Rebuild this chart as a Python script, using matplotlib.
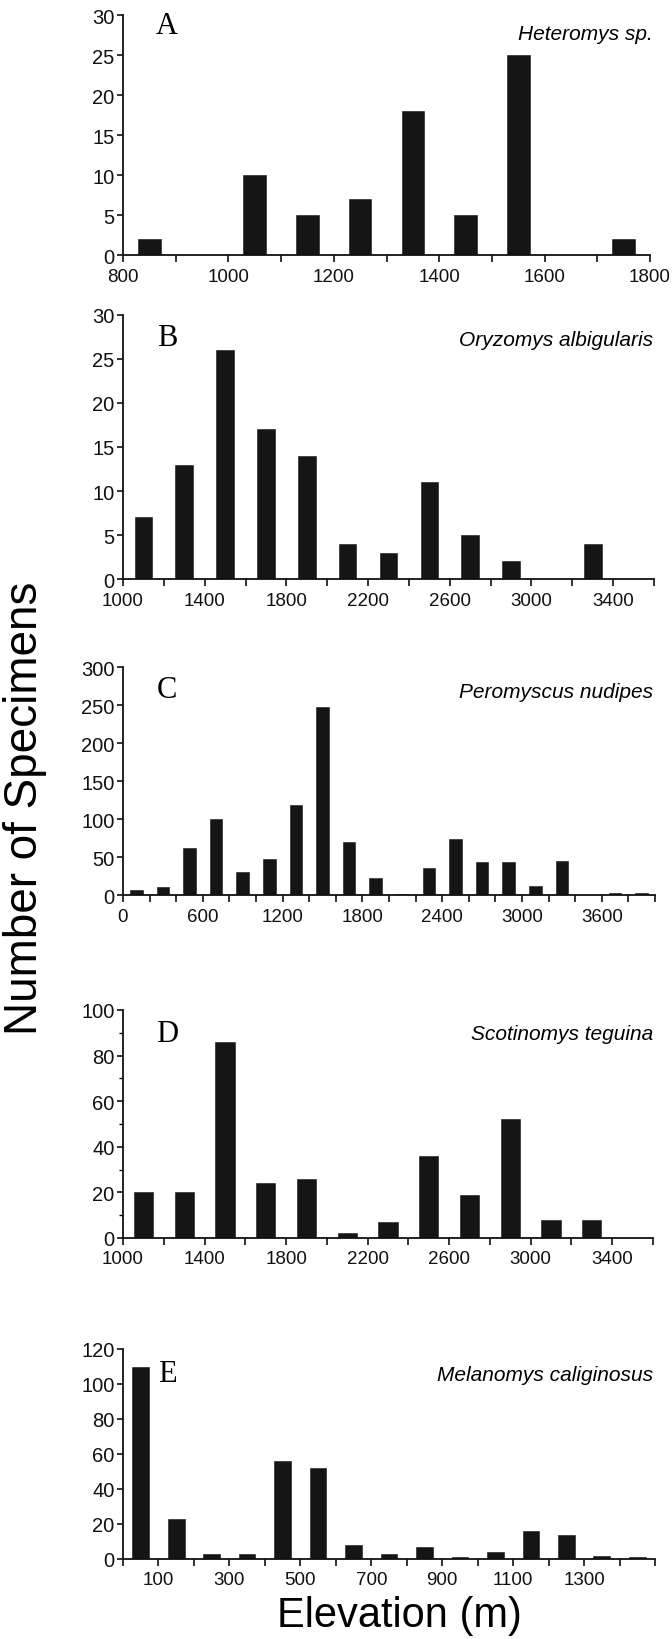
import matplotlib
matplotlib.use("Agg")
import matplotlib.pyplot as plt

# ---- data: specimen counts per elevation bin (bin centres in metres) ----
elev_a = [850, 950, 1050, 1150, 1250, 1350, 1450, 1550, 1650, 1750]
count_a = [2, 0, 10, 5, 7, 18, 5, 25, 0, 2]

elev_b = [1100, 1300, 1500, 1700, 1900, 2100, 2300, 2500, 2700, 2900, 3100, 3300, 3500]
count_b = [7, 13, 26, 17, 14, 4, 3, 11, 5, 2, 0, 4, 0]

elev_c = [100, 300, 500, 700, 900, 1100, 1300, 1500, 1700, 1900,
          2100, 2300, 2500, 2700, 2900, 3100, 3300, 3500, 3700, 3900]
count_c = [6, 10, 62, 100, 30, 47, 118, 247, 70, 22,
           1, 35, 74, 44, 44, 12, 45, 0, 2, 2]

elev_d = [1100, 1300, 1500, 1700, 1900, 2100, 2300, 2500, 2700, 2900, 3100, 3300, 3500]
count_d = [20, 20, 86, 24, 26, 2, 7, 36, 19, 52, 8, 8, 0]

elev_e = [50, 150, 250, 350, 450, 550, 650, 750, 850, 950, 1050, 1150, 1250, 1350, 1450]
count_e = [110, 23, 3, 3, 56, 52, 8, 3, 7, 1, 4, 16, 14, 2, 1]

species = ["Heteromys sp.", "Oryzomys albigularis", "Peromyscus nudipes",
           "Scotinomys teguina", "Melanomys caliginosus"]
letters = ["A", "B", "C", "D", "E"]

# axis extents and ticks
xlims = [(800, 1800), (1000, 3600), (0, 4000), (1000, 3600), (0, 1500)]
xticks = [
    [800, 900, 1000, 1100, 1200, 1300, 1400, 1500, 1600, 1700, 1800],
    [1000, 1200, 1400, 1600, 1800, 2000, 2200, 2400, 2600, 2800, 3000, 3200, 3400, 3600],
    [0, 200, 400, 600, 800, 1000, 1200, 1400, 1600, 1800, 2000,
     2200, 2400, 2600, 2800, 3000, 3200, 3400, 3600, 3800, 4000],
    [1000, 1200, 1400, 1600, 1800, 2000, 2200, 2400, 2600, 2800, 3000, 3200, 3400, 3600],
    [0, 100, 200, 300, 400, 500, 600, 700, 800, 900, 1000, 1100, 1200, 1300, 1400, 1500],
]
xlabels = [
    ["800", "", "1000", "", "1200", "", "1400", "", "1600", "", "1800"],
    ["1000", "", "1400", "", "1800", "", "2200", "", "2600", "", "3000", "", "3400", ""],
    ["0", "", "", "600", "", "", "1200", "", "", "1800", "", "", "2400", "", "",
     "3000", "", "", "3600", "", ""],
    ["1000", "", "1400", "", "1800", "", "2200", "", "2600", "", "3000", "", "3400", ""],
    ["", "100", "", "300", "", "500", "", "700", "", "900", "", "1100", "", "1300", "", ""],
]
ymax = [30, 30, 300, 100, 120]
ymajor = [
    [0, 5, 10, 15, 20, 25, 30],
    [0, 5, 10, 15, 20, 25, 30],
    [0, 50, 100, 150, 200, 250, 300],
    [0, 20, 40, 60, 80, 100],
    [0, 20, 40, 60, 80, 100, 120],
]
yminor = [[], [], [], [10, 30, 50, 70, 90], []]
bar_frac = [0.43, 0.43, 0.47, 0.47, 0.47]
bin_width = [100, 200, 200, 200, 100]

elevs = [elev_a, elev_b, elev_c, elev_d, elev_e]
counts = [count_a, count_b, count_c, count_d, count_e]

# ---- layout in pixels ----
W, H = 672, 1640
fig = plt.figure(figsize=(W / 100, H / 100), dpi=100)
fig.patch.set_facecolor("white")

ax_left = 123
ax_rights = [650, 654, 655, 653, 655]
panel_tops = [16, 316, 668, 1011, 1350]
panel_bottoms = [256, 580, 896, 1239, 1560]
letter_dy = [11, 22, 23, 24, 25]
title_dy = [18, 24, 25, 24, 26]

tick_font = ["Liberation Sans", "DejaVu Sans"]
bar_color = "#151515"

for i in range(5):
    t, b = panel_tops[i], panel_bottoms[i]
    r = ax_rights[i]
    ax = fig.add_axes([ax_left / W, 1 - b / H, (r - ax_left) / W, (b - t) / H])
    ax.bar(elevs[i], counts[i], width=bin_width[i] * bar_frac[i],
           color=bar_color, edgecolor=bar_color, linewidth=0.4, zorder=2)
    ax.set_xlim(*xlims[i])
    ax.set_ylim(0, ymax[i])
    for s in ("top", "right"):
        ax.spines[s].set_visible(False)
    for s in ("left", "bottom"):
        ax.spines[s].set_linewidth(1.3)
        ax.spines[s].set_color("#111111")
    ax.spines["left"].set_bounds(0, ymax[i])
    ax.set_xticks(xticks[i])
    ax.set_xticklabels(xlabels[i], fontfamily=tick_font, fontsize=13.5)
    ax.set_yticks(ymajor[i])
    ax.set_yticklabels([str(v) for v in ymajor[i]], fontfamily=tick_font, fontsize=14.5)
    if yminor[i]:
        ax.set_yticks(yminor[i], minor=True)
    ax.tick_params(axis="x", direction="out", length=5, width=1.2, pad=4, colors="#111111")
    ax.tick_params(axis="y", direction="out", length=4, width=1.2, pad=2, colors="#111111")
    ax.tick_params(axis="y", which="minor", direction="out", length=3, width=1.0)
    ax.patch.set_visible(False)

    fig.text(167 / W, 1 - (t + letter_dy[i]) / H, letters[i],
             family=["Liberation Serif", "DejaVu Serif"],
             fontsize=22, ha="center", va="center")
    fig.text(653 / W, 1 - (t + title_dy[i]) / H, species[i], family=tick_font,
             style="italic", fontsize=15, ha="right", va="center")

fig.text(25 / W, 1 - 808 / H, "Number of Specimens", family=tick_font, fontsize=33,
         rotation=90, ha="center", va="center")
fig.text(399 / W, 1 - 1616 / H, "Elevation (m)", family=tick_font, fontsize=30,
         ha="center", va="center")

fig.savefig("out.png", dpi=100, facecolor="white")
